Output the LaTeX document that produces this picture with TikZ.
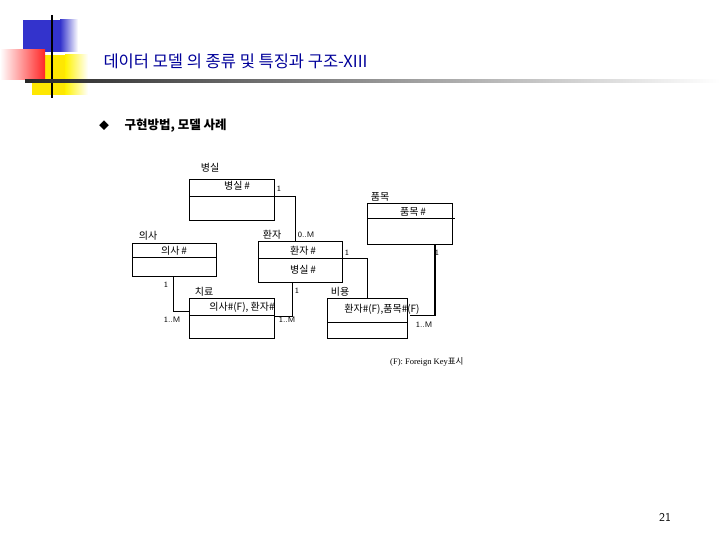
\documentclass[tikz,border=0pt]{standalone}
\usepackage{fontspec}
\newfontfamily\kr{Noto Sans CJK KR}
\setmainfont{Liberation Serif}
\begin{document}
\begin{tikzpicture}[x=1pt,y=-1pt,
  ent/.style={draw,line width=0.6pt},
  lab/.style={font=\kr\fontsize{10}{11}\selectfont,inner sep=0pt},
  card/.style={font=\sffamily\fontsize{8}{9}\selectfont,inner sep=0pt},
  rel/.style={line width=0.6pt}]
\useasboundingbox (0,0) rectangle (720,540);
% decoration
\fill[blue!75!black!80] (23,20) rectangle (70,52);
\shade[left color=blue!75!black!80,right color=white] (60,20) rectangle (78,52);
\fill[yellow!90!orange] (32,55) rectangle (80,95);
\shade[left color=yellow!90!orange,right color=white] (65,55) rectangle (88,95);
\shade[left color=white,right color=red!85] (0,50) rectangle (45,80);
\draw[line width=2pt] (52,15) -- (52,98);
\shade[left color=black!85,right color=white] (25,79.5) rectangle (720,83);
\node[anchor=west,font=\kr\fontsize{16.5}{17}\selectfont,text=blue!60!black] (title) at (100,61) {데이터 모델 의 종류 및 특징과 구조-XIII};
\node[font=\kr\fontsize{10}{10}\selectfont] (bul) at (104,126) {◆};
\node[anchor=west,font=\kr\bfseries\fontsize{12.5}{13}\selectfont] (sub) at (121,126) {구현방법, 모델 사례};
% entities
\draw[ent] (189,179) rectangle (274,220); \draw[ent] (189,196) coordinate (bsl) -- (295,196) coordinate (bsr);
\draw[ent] (367,203) rectangle (452,244); \draw[ent] (367,218) -- (455,218);
\draw[ent] (132,243) rectangle (216,276); \draw[ent] (132,257) -- (216,257);
\draw[ent] (258,241) rectangle (342,282); \draw[ent] (258,258) -- (367,258) coordinate (hr);
\draw[ent] (189,298) rectangle (274,338); \draw[ent] (189,315) -- (274,315);
\draw[ent] (327,298) rectangle (407,338); \draw[ent] (327,322) -- (407,322);
% entity labels
\node[lab] (l1) at (210,168) {병실};
\node[lab] (l2) at (237,186) {병실\,\#};
\node[lab] (l3) at (380,197) {품목};
\node[lab] (l4) at (413,212) {품목\,\#};
\node[lab] (l5) at (148,236) {의사};
\node[lab] (l6) at (174,251) {의사\,\#};
\node[lab] (l7) at (272,235) {환자};
\node[lab] (l8) at (303,251) {환자\,\#};
\node[lab] (l9) at (303,270) {병실\,\#};
\node[lab] (l10) at (204,292) {치료};
\node[lab] (l11) at (242,307) {의사\#(F), 환자\#};
\node[lab] (l12) at (340,292) {비용};
\node[lab] (l13) at (382,309) {환자\#(F),품목\#(F)};
% relations
\draw[rel] (bsr) -- (295,241);
\draw[rel] (hr) -- (367,298);
\draw[rel] (435,244) -- (435,315) -- (410,315);
\draw[rel,line width=1.2pt] (435,244) -- (435,315);
\draw[rel] (173,276) -- (173,311) -- (189,311);
\draw[rel] (292,282) -- (292,316) -- (274,316);
% cardinalities
\node[card] (c1) at (279,189) {1};
\node[card] (c2) at (306,235) {0..M};
\node[card] (c3) at (347,253) {1};
\node[card] (c4) at (437,253) {1};
\node[card] (c5) at (166,285) {1};
\node[card] (c6) at (172,320) {1..M};
\node[card] (c7) at (297,291) {1};
\node[card] (c8) at (287,320) {1..M};
\node[card] (c9) at (424,325) {1..M};
\node[anchor=west,font=\fontsize{8.5}{9}\selectfont,inner sep=0pt] (note) at (390,362) {(F): Foreign Key{\kr 표시}};
\node[font=\sffamily\fontsize{12}{12}\selectfont] (pg) at (665,517) {21};
\end{tikzpicture}
\end{document}
